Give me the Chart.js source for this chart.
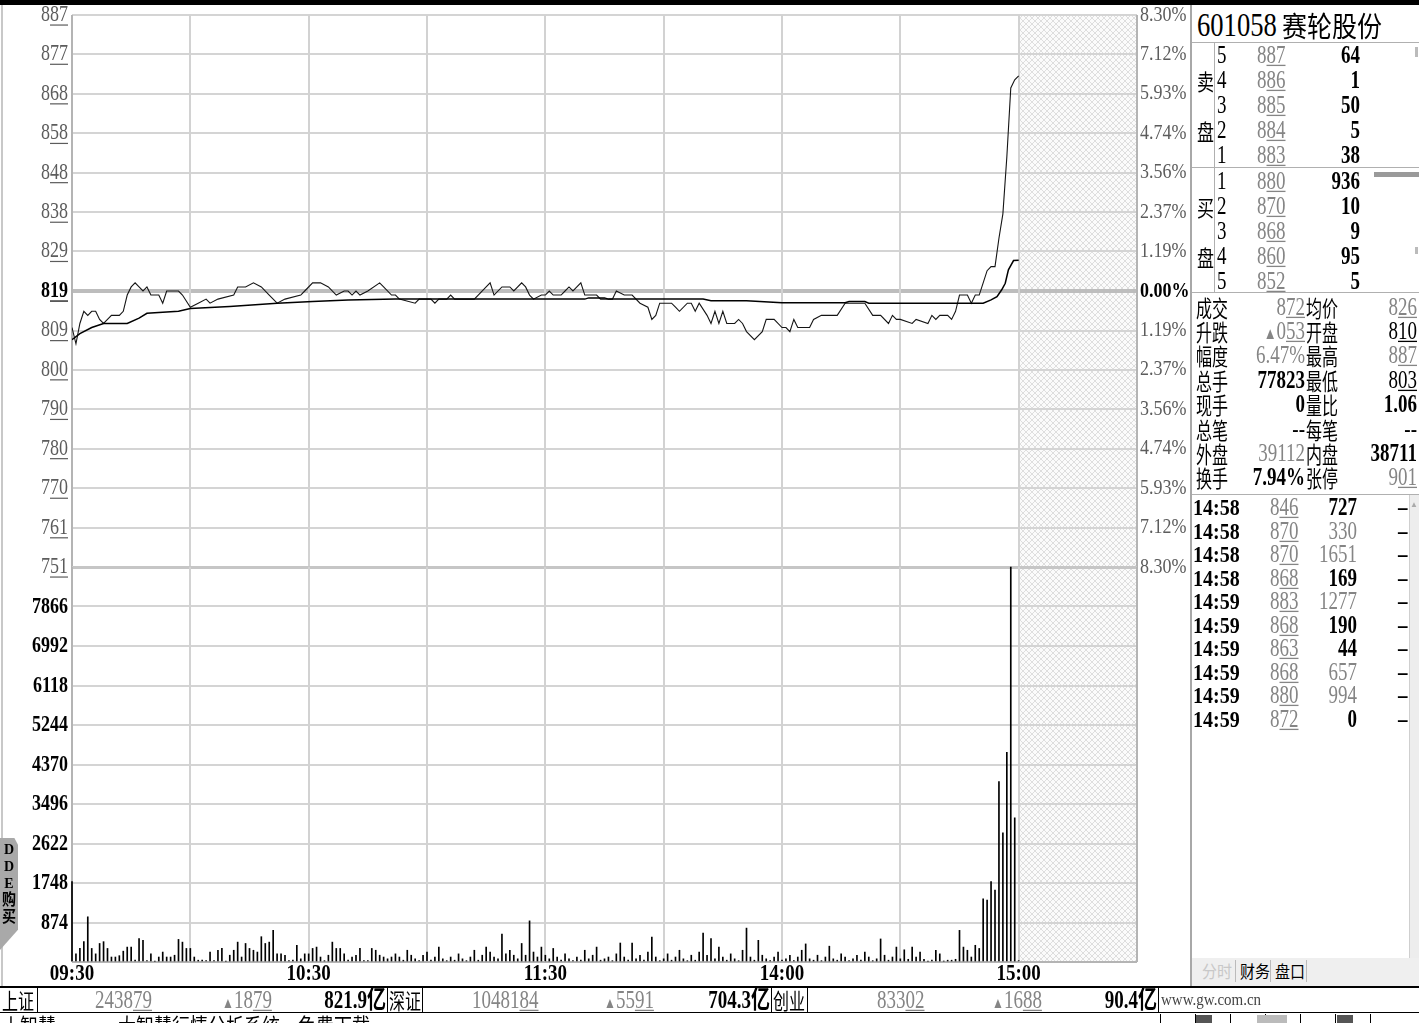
<!DOCTYPE html>
<html><head><meta charset="utf-8">
<script src="https://cdn.jsdelivr.net/npm/chart.js@4.4.1/dist/chart.umd.min.js"></script>
<style>
body{margin:0;background:#fff;}
#root{position:relative;width:1419px;height:1023px;overflow:hidden;background:#fff;font-family:'Liberation Serif','Noto Sans CJK SC',serif;}
canvas{position:absolute;}
.t{position:absolute;white-space:pre;line-height:1;}
.ln{position:absolute;}
</style></head><body><div id="root">
<canvas id="pc" width="1190" height="580" style="left:0;top:0;width:1190px;height:580px"></canvas>
<canvas id="vc" width="1190" height="430" style="left:0;top:560px;width:1190px;height:430px"></canvas>
</div>
<script>
// ---------------- DATA ----------------
const stockCode = '601058';
const stockName = '赛轮股份';
const prevClose = 819;          // 8.19 shown as 819
const limitPct = 8.30;
const priceTickLabels = ['751','761','770','780','790','800','809','819','829','838','848','858','868','877','887'];
const pctTickLabels = ['8.30%','7.12%','5.93%','4.74%','3.56%','2.37%','1.19%','0.00%','1.19%','2.37%','3.56%','4.74%','5.93%','7.12%','8.30%'];
const pctTickValues = [-8.30,-7.12,-5.93,-4.74,-3.56,-2.37,-1.19,0,1.19,2.37,3.56,4.74,5.93,7.12,8.30];
const volTickValues = [0,874,1748,2622,3496,4370,5244,6118,6992,7866,8740];
const volTickLabels = ['','874','1748','2622','3496','4370','5244','6118','6992','7866',''];
const timeLabels = ['09:30','10:30','11:30','14:00','15:00'];
const timeLabelMinutes = [0,60,120,180,240];
const gridMinutes = [0,30,60,90,120,150,180,210,240,270];

const priceMinutes = [0,1,2,3,4,5,6,7,8,9,10,12,13,14,15,16,17,18,19,20,22,23,24,27,28,30,32,34,35,37,41,42,44,46,48,50,52,54,58,59,61,63,65,67,69,70,71,72,73,75,78,79,81,82,83,87,88,91,92,93,95,96,97,100,102,105,106,107,109,111,112,114,115,116,117,119,120,121,122,124,125,126,127,128,129,130,133,134,137,138,140,142,144,146,147,148,149,152,153,154,156,157,158,159,161,162,163,164,165,166,168,169,170,171,173,175,176,178,180,181,182,183,184,187,188,190,194,196,201,203,205,207,208,209,210,213,214,217,218,219,220,222,223,224,225,227,228,229,230,231,232,233,234,235,236,237,238,239,240];
const priceValues  = [810,806,811,814,813,814,814,812,811,812,813,813,814,818,820,821,820,819,820,818,818,816,819,819,818,815,816,817,816,817,818,820,820,821,820,818,816,817,818,819,821,821,820,818,819,819,818,819,818,819,821,820,818,818,817,816,817,817,816,817,817,818,817,817,817,820,821,818,820,820,819,821,820,818,817,818,818,819,818,818,819,820,819,820,821,818,818,817,817,819,818,818,816,815,812,813,816,816,815,814,816,816,814,816,813,811,814,811,814,811,811,812,811,809,807,809,812,812,810,810,809,812,810,810,812,813,813,816,816,813,813,811,813,812,812,811,812,811,813,812,813,813,812,814,818,818,816,818,818,821,824,825,825,832,838,852,869,871,872];
const avgMinutes = [0,2,5,8,14,17,19,27,30,40,52,61,70,82,130,131,135,136,160,162,171,180,196,197,201,202,231,233,234.5,235.7,236.6,237.4,238.7,240];
const avgValues  = [807,808.5,810,811,811,812.3,813.5,814,814.7,815.2,816,816.4,816.8,817,817,817.3,817.3,817,817,816.6,816.6,816.1,816.1,816.4,816.4,816,816,816.8,817.6,819.3,820.9,824.2,826.5,826.6];
const volumes = [
1780,180,300,450,1000,300,180,410,450,300,
110,110,140,240,330,330,40,520,480,30,
180,20,110,220,110,110,150,500,440,300,
300,110,40,40,30,220,30,260,300,20,
150,260,440,110,410,300,260,220,560,410,
440,700,180,180,150,30,40,370,70,180,
180,300,330,110,30,150,440,300,300,180,
40,110,150,300,30,30,300,260,150,110,
70,110,180,110,40,260,150,70,30,150,
220,40,110,330,70,30,110,40,180,70,
30,110,260,40,150,330,220,110,70,620,
180,260,150,70,410,150,910,220,110,330,
150,70,300,110,40,180,70,30,110,40,
260,70,150,330,40,70,110,30,180,420,
110,40,420,70,150,40,220,550,110,30,
70,180,40,110,260,70,30,150,40,220,
640,150,520,70,330,110,40,180,70,30,
260,750,110,40,480,150,70,30,110,220,
40,70,150,30,110,260,400,70,40,150,
30,110,350,70,40,180,110,30,70,150,
40,220,110,30,70,510,150,40,110,330,
70,270,60,330,110,220,60,20,40,260,
180,20,40,40,60,700,330,260,110,370,
300,1400,1370,1780,1590,3990,2860,4640,8740,3190,
30];
const sellLevels = ['5','4','3','2','1'];
const sellPrices = ['887','886','885','884','883'];
const sellVols = ['64','1','50','5','38'];
const buyLevels = ['1','2','3','4','5'];
const buyPrices = ['880','870','868','860','852'];
const buyVols = ['936','10','9','95','5'];
const statLabelsA = ['成交','升跌','幅度','总手','现手','总笔','外盘','换手'];
const statValuesA = ['872','▲053','6.47%','77823','0','--','39112','7.94%'];
const statLabelsB = ['均价','开盘','最高','最低','量比','每笔','内盘','张停'];
const statValuesB = ['826','810','887','803','1.06','--','38711','901'];
const tradeTimes = ['14:58','14:58','14:58','14:58','14:59','14:59','14:59','14:59','14:59','14:59'];
const tradePrices = ['846','870','870','868','883','868','863','868','880','872'];
const tradeVols = ['727','330','1651','169','1277','190','44','657','994','0'];
const tradeVolUp = [false,true,true,false,true,false,false,true,true,false];
const indexNames = ['上证','深证','创业'];
const indexValues = ['243879','1048184','83302'];
const indexChanges = ['1879','5591','1688'];
const indexAmounts = ['821.9亿','704.3亿','90.4亿'];

// ---------------- HELPERS ----------------
const root = document.getElementById('root');
const GRAY = '#858585';
function put(html, x, y, o = {}) {
  const d = document.createElement('div');
  d.className = 't';
  d.innerHTML = html;
  d.style.left = x + 'px'; d.style.top = y + 'px';
  d.style.fontSize = (o.size || 19) + 'px';
  d.style.color = o.color || '#000';
  d.style.fontWeight = o.bold ? '700' : '400';
  if (o.ff) d.style.fontFamily = o.ff;
  const tx = o.align === 'right' ? '-100%' : o.align === 'center' ? '-50%' : '0';
  d.style.transformOrigin = o.align === 'right' ? 'right center' : o.align === 'center' ? 'center center' : 'left center';
  d.style.transform = `translate(${tx},-50%) scale(${o.sx || 1},${o.sy || 1.3})`;
  root.appendChild(d);
  return d;
}
function ul(s, n = 2) { return s.slice(0, s.length - n) + '<span style="text-decoration:underline;text-underline-offset:1px">' + s.slice(-n) + '</span>'; }
function line(x, y, w, h, c) { const d = document.createElement('div'); d.className = 'ln'; d.style.left = x + 'px'; d.style.top = y + 'px'; d.style.width = w + 'px'; d.style.height = h + 'px'; d.style.background = c; root.appendChild(d); return d; }

function ctext(ctx, text, x, y, o) {
  ctx.save();
  ctx.font = o.font; ctx.fillStyle = o.color; ctx.textBaseline = 'middle'; ctx.textAlign = o.align || 'left';
  const sy = o.sy || 1.3;
  ctx.translate(x, y); ctx.scale(1, sy);
  ctx.fillText(text, 0, 0);
  if (o.ul) {
    const w = ctx.measureText(text).width, wl = ctx.measureText(text.slice(-o.ul)).width;
    const xr = o.align === 'right' ? 0 : o.align === 'center' ? w / 2 : w;
    ctx.fillRect(xr - wl, o.size * 0.42, wl, 1.2 / sy);
  }
  ctx.restore();
}
function makeHatch(ctx) {
  const c = document.createElement('canvas'); c.width = 6; c.height = 6;
  const g = c.getContext('2d'); g.fillStyle = '#fbfbfb'; g.fillRect(0, 0, 6, 6);
  g.fillStyle = '#dedede';
  for (let i = 0; i < 6; i++) { g.fillRect(i, i, 1, 1); g.fillRect(i, 5 - i, 1, 1); }
  return ctx.createPattern(c, 'repeat');
}
const backPlugin = {
  id: 'back',
  beforeDraw(chart) {
    const { ctx, chartArea: a, scales: { x } } = chart;
    ctx.save();
    ctx.fillStyle = makeHatch(ctx);
    const xs = x.getPixelForValue(240);
    ctx.fillRect(xs, a.top, a.right - xs, a.bottom - a.top);
    ctx.restore();
  },
  beforeDatasetsDraw(chart) {
    const { ctx, chartArea: a, scales: { x } } = chart;
    ctx.save();
    gridMinutes.forEach((m, i) => {
      const px = Math.round(x.getPixelForValue(m));
      ctx.fillStyle = (i === 0 || i === gridMinutes.length - 1) ? '#b4b4b4' : '#d2d2d2';
      ctx.fillRect(px - 1, a.top, 2, a.bottom - a.top);
    });
    ctx.restore();
  }
};
const priceTickValues = pctTickValues.map(p => prevClose * (1 + p / 100));

// ---------------- PRICE CHART ----------------
new Chart(document.getElementById('pc'), {
  type: 'line',
  data: { datasets: [
    { label: '均价', data: avgMinutes.map((m, i) => ({ x: m, y: avgValues[i] })), borderColor: '#000', borderWidth: 1.5, pointRadius: 0, tension: 0 },
    { label: '价格', data: priceMinutes.map((m, i) => ({ x: m, y: priceValues[i] })), borderColor: '#151515', borderWidth: 1.1, pointRadius: 0, tension: 0 }
  ] },
  options: {
    responsive: false, animation: false, events: [],
    layout: { padding: { top: 15, bottom: 13, left: 0, right: 0 } },
    plugins: { legend: { display: false }, tooltip: { enabled: false } },
    scales: {
      x: { type: 'linear', min: 0, max: 270, display: false },
      y: { position: 'left', min: priceTickValues[0], max: priceTickValues[14],
        afterBuildTicks: s => { s.ticks = priceTickValues.map(v => ({ value: v })); },
        afterFit: s => { s.width = 72; },
        ticks: { display: false }, border: { display: false },
        grid: { drawTicks: false,
          color: c => c.index === 7 ? '#bdbdbd' : (c.index === 0 ? '#c6c6c6' : '#d4d4d4'),
          lineWidth: c => c.index === 7 ? 4 : (c.index === 0 ? 3 : 2) } },
      y2: { position: 'right', min: -limitPct, max: limitPct, afterFit: s => { s.width = 53; },
        ticks: { display: false }, grid: { display: false }, border: { display: false } }
    }
  },
  plugins: [backPlugin, {
    id: 'plabels',
    afterDraw(chart) {
      const { ctx, scales: { y, y2 } } = chart;
      priceTickValues.forEach((v, i) => {
        const py = y.getPixelForValue(v);
        const zero = i === 7;
        ctext(ctx, priceTickLabels[i], 68, py, { font: (zero ? 'bold ' : '') + '18px "Liberation Serif"', size: 18, color: zero ? '#000' : '#5c5c5c', align: 'right', ul: 2, sy: 1.25 });
      });
      pctTickValues.forEach((p, i) => {
        const py = y2.getPixelForValue(p);
        const zero = i === 7;
        ctext(ctx, pctTickLabels[i], 1140, py, { font: (zero ? 'bold ' : '') + '18px "Liberation Serif"', size: 18, color: zero ? '#000' : '#5c5c5c', align: 'left', sy: 1.2 });
      });
    }
  }]
});

// ---------------- VOLUME CHART ----------------
new Chart(document.getElementById('vc'), {
  type: 'bar',
  data: { datasets: [{ label: '成交量', data: volumes.map((v, i) => ({ x: i, y: v })), backgroundColor: '#000', barThickness: 1, borderWidth: 0, clip: false }] },
  options: {
    responsive: false, animation: false, events: [],
    layout: { padding: { top: 7, bottom: 28, left: 0, right: 53 } },
    plugins: { legend: { display: false }, tooltip: { enabled: false } },
    scales: {
      x: { type: 'linear', min: 0, max: 270, display: false, offset: false },
      y: { position: 'left', min: 0, max: 8740,
        afterBuildTicks: s => { s.ticks = volTickValues.map(v => ({ value: v })); },
        afterFit: s => { s.width = 72; },
        ticks: { display: false }, border: { display: false },
        grid: { drawTicks: false, color: c => (c.index === 10 ? '#c6c6c6' : c.index === 0 ? '#b4b4b4' : '#d4d4d4'), lineWidth: c => (c.index === 10 ? 3 : 2) } }
    }
  },
  plugins: [backPlugin, {
    id: 'vlabels',
    afterDraw(chart) {
      const { ctx, scales: { x, y }, chartArea: a } = chart;
      volTickValues.forEach((v, i) => {
        if (!volTickLabels[i]) return;
        ctext(ctx, volTickLabels[i], 68, y.getPixelForValue(v), { font: 'bold 18px "Liberation Serif"', size: 18, color: '#000', align: 'right', sy: 1.3 });
      });
      timeLabelMinutes.forEach((m, i) => {
        ctext(ctx, timeLabels[i], x.getPixelForValue(m), a.bottom + 12, { font: 'bold 19px "Liberation Serif"', size: 19, color: '#000', align: 'center', sy: 1.25 });
      });
    }
  }]
});

// ---------------- FRAME ----------------
line(0, 0, 1419, 5, '#000');
line(1, 5, 2, 982, '#c8c8c8');
line(1190, 5, 2, 982, '#a8a8a8');
// DDE tab
const dde = document.createElement('div');
dde.style.cssText = 'position:absolute;left:0;top:838px;width:18px;height:112px;background:#a9a9a9;clip-path:polygon(0 0,80% 0,100% 6%,100% 82%,0 100%);';
root.appendChild(dde);
['D', 'D', 'E', '购', '买'].forEach((c, i) => put(c, 9, 850 + i * 17, { size: 14, bold: true, align: 'center', sy: 1.1, ff: "'Liberation Serif','Noto Sans CJK SC'" }));

// ---------------- RIGHT PANEL ----------------
put(stockCode, 1197, 25, { size: 28, sy: 1.2, sx: 0.95 });
put(stockName, 1282, 25, { size: 25, sy: 1.15, ff: "'Noto Sans CJK SC'" });
line(1192, 42, 227, 1, '#b0b0b0');
line(1214, 42, 1, 251, '#b0b0b0');
line(1192, 167, 227, 1, '#b0b0b0');
line(1192, 292, 227, 1, '#b0b0b0');
line(1192, 494, 227, 1, '#b0b0b0');
const cjk = "'Noto Sans CJK SC'";
put('卖', 1197, 80, { size: 17, sy: 1.3, ff: cjk });
put('盘', 1197, 130, { size: 17, sy: 1.3, ff: cjk });
put('买', 1197, 206, { size: 17, sy: 1.3, ff: cjk });
put('盘', 1197, 256, { size: 17, sy: 1.3, ff: cjk });
sellLevels.forEach((l, i) => {
  const yy = 55 + i * 25;
  put(l, 1217, yy, { size: 19 });
  put(ul(sellPrices[i]), 1257, yy, { size: 19, color: GRAY });
  put(sellVols[i], 1360, yy, { size: 19, bold: true, align: 'right' });
});
buyLevels.forEach((l, i) => {
  const yy = 181 + i * 25;
  put(l, 1217, yy, { size: 19 });
  put(ul(buyPrices[i]), 1257, yy, { size: 19, color: GRAY });
  put(buyVols[i], 1360, yy, { size: 19, bold: true, align: 'right' });
});
line(1374, 172, 45, 5, '#9a9a9a');
line(1415, 47, 3, 10, '#bbb');
line(1415, 247, 3, 7, '#bbb');

const statY = [307, 331, 355, 380, 404, 429, 453, 477];
const aColor = [GRAY, GRAY, GRAY, '#000', '#000', '#000', GRAY, '#000'];
const aBold = [false, false, false, true, true, false, false, true];
const bColor = [GRAY, '#000', GRAY, '#000', '#000', '#000', '#000', GRAY];
const bUl = [true, true, true, true, false, false, false, true];
statY.forEach((yy, i) => {
  put(statLabelsA[i], 1196, yy, { size: 16, sy: 1.4, ff: cjk });
  let va = statValuesA[i];
  if (va.startsWith('▲')) va = '<span style="font-size:13px">▲</span>' + ul(va.slice(1));
  else if (i === 0) va = ul(va);
  put(va, 1305, yy, { size: 19, color: aColor[i], bold: aBold[i], align: 'right' });
  put(statLabelsB[i], 1306, yy, { size: 16, sy: 1.4, ff: cjk });
  put(bUl[i] ? ul(statValuesB[i]) : statValuesB[i], 1417, yy, { size: 19, color: bColor[i], bold: i === 6 || i === 4, align: 'right' });
});

tradeTimes.forEach((t, i) => {
  const yy = 507 + i * 23.5;
  put(t, 1193, yy, { size: 20, bold: true, sy: 1.2 });
  put(ul(tradePrices[i]), 1270, yy, { size: 19, color: GRAY });
  put(tradeVols[i], 1357, yy, { size: 19, bold: !tradeVolUp[i], color: tradeVolUp[i] ? GRAY : '#000', align: 'right' });
  put('–', 1398, yy, { size: 19, bold: true });
});
// scrollbar
const sb = line(1409, 495, 10, 463, '#ededed'); sb.style.borderLeft = '1px solid #cfcfcf';
put('▲', 1414, 505, { size: 8, color: '#aaa', align: 'center', sy: 1 });
// tabs
line(1192, 958, 227, 28, '#efefef');
put('分时', 1202, 971, { size: 15, color: '#c8c8c8', sy: 1.1, ff: cjk });
put('财务', 1240, 971, { size: 15, sy: 1.1, ff: cjk });
put('盘口', 1275, 971, { size: 15, sy: 1.1, ff: cjk });
line(1235, 960, 1, 22, '#bbb');
line(1270, 960, 1, 22, '#bbb');
line(1306, 960, 1, 22, '#bbb');

// ---------------- STATUS BAR ----------------
line(0, 986, 1419, 2, '#000');
line(0, 1012, 1419, 1, '#000');
[37, 387, 422, 771, 807, 1158].forEach(x => line(x, 988, 1, 24, '#000'));
const nameX = [2, 389, 773], valX = [95, 472, 877], chgX = [222, 604, 992], amtR = [386, 770, 1157];
indexNames.forEach((n, i) => {
  put(n, nameX[i], 1000, { size: 16, sy: 1.35, ff: cjk });
  put(ul(indexValues[i]), valX[i], 1000, { size: 19, color: GRAY });
  put('<span style="font-size:12px">▲</span>' + ul(indexChanges[i]), chgX[i], 1000, { size: 19, color: GRAY });
  put(indexAmounts[i], amtR[i], 1000, { size: 19, bold: true, align: 'right' });
});
put('www.gw.com.cn', 1161, 1000, { size: 15, color: '#444', sy: 1.1 });
put('丨智慧', 2, 1024, { size: 18, sy: 1.2, ff: cjk });
put('· ·大智慧行情分析系统，免费下载', 78, 1024, { size: 18, sy: 1.2, ff: cjk });
[1160, 1195, 1230, 1265, 1300, 1335, 1370].forEach((x, i) => line(x, 1014, 1, 9, '#000'));
line(1196, 1015, 16, 8, '#555'); line(1337, 1015, 16, 8, '#555'); line(1257, 1015, 30, 8, '#bbb');
</script></body></html>
